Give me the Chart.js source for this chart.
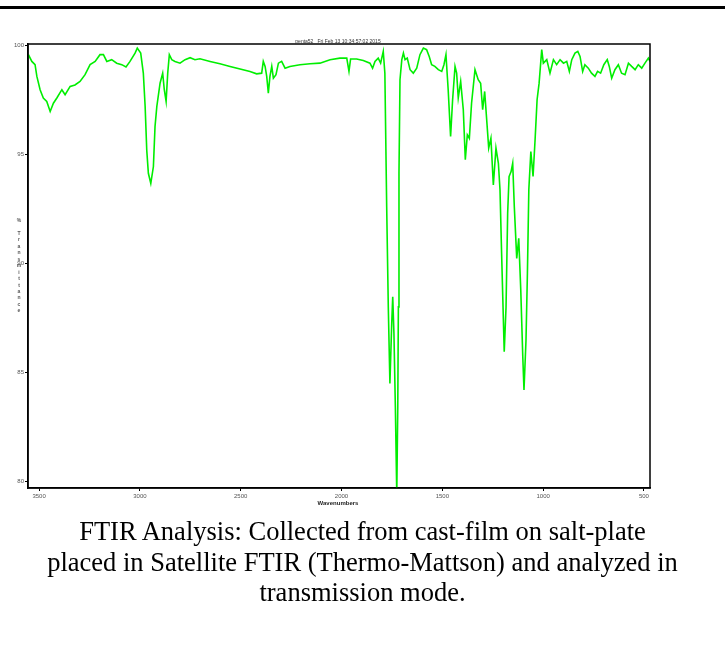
<!DOCTYPE html>
<html lang="en">
<head>
    <meta charset="UTF-8">
    <title>FTIR Spectrum</title>
    <script src="https://cdn.jsdelivr.net/npm/chart.js"></script>
    <style>
        body {
            margin: 0;
            background: #fff;
            width: 725px;
            height: 652px;
            position: relative;
            overflow: hidden;
        }
        .top-rule {
            position: absolute;
            left: 0;
            top: 6px;
            width: 725px;
            height: 3px;
            background: #000;
        }
        #chart {
            position: absolute;
            left: 0;
            top: 0;
        }
        .plot-title {
            position: absolute;
            left: 0;
            width: 676px;
            top: 38px;
            text-align: center;
            font-family: Arial, sans-serif;
            font-size: 5px;
            color: #333;
            white-space: pre;
        }
        .x-label {
            position: absolute;
            left: 0;
            width: 676px;
            top: 500px;
            text-align: center;
            font-family: Arial, sans-serif;
            font-size: 6px;
            font-weight: bold;
            color: #222;
        }
        .y-label {
            position: absolute;
            left: 15px;
            width: 8px;
            top: 217px;
            text-align: center;
            font-family: Arial, sans-serif;
            font-size: 5px;
            line-height: 6.45px;
            font-weight: bold;
            color: #555;
            white-space: pre;
        }
        .caption {
            position: absolute;
            left: 0;
            width: 725px;
            top: 516px;
            text-align: center;
            font-family: "Liberation Serif", "Times New Roman", serif;
            font-size: 26.5px;
            line-height: 30.5px;
            color: #000;
        }
    </style>
</head>
<body>
    <div class="top-rule"></div>
    <canvas id="chart" width="725" height="520"></canvas>
    <div class="plot-title">penta52   Fri Feb 13 10:34:57:02 2015</div>
    <div class="y-label" id="ylabel"></div>
    <div class="x-label">Wavenumbers</div>
    <div class="caption">FTIR Analysis: Collected from cast-film on salt-plate<br>placed in Satellite FTIR (Thermo-Mattson) and analyzed in<br>transmission mode.</div>

    <script>
        // spectrum (cm-1, %T)
        const wavenumbers = [
            3553, 3536, 3520, 3511, 3495, 3479, 3462, 3445, 3429, 3412, 3387, 3371, 3346, 3322, 3297, 3272,
            3247, 3222, 3198, 3181, 3164, 3140, 3115, 3090, 3069, 3049, 3024, 3013, 2996, 2983, 2974, 2966,
            2958, 2946, 2933, 2925, 2916, 2900, 2887, 2879, 2870, 2862, 2854, 2842, 2826, 2801, 2776, 2751,
            2727, 2702, 2652, 2603, 2553, 2503, 2454, 2421, 2396, 2388, 2379, 2371, 2363, 2355, 2346, 2338,
            2325, 2313, 2297, 2280, 2256, 2206, 2156, 2107, 2057, 2008, 1974, 1963, 1955, 1925, 1892, 1859,
            1846, 1834, 1818, 1806, 1793, 1785, 1776, 1768, 1760, 1751, 1746, 1740, 1733, 1726, 1721, 1718,
            1715, 1710, 1701, 1693, 1685, 1674, 1660, 1644, 1627, 1611, 1594, 1578, 1565, 1553, 1537, 1520,
            1503, 1492, 1482, 1471, 1459, 1449, 1437, 1429, 1421, 1409, 1396, 1386, 1376, 1366, 1355, 1338,
            1322, 1310, 1300, 1290, 1280, 1270, 1259, 1247, 1234, 1222, 1214, 1206, 1193, 1184, 1176, 1169,
            1159, 1151, 1143, 1131, 1121, 1111, 1101, 1095, 1085, 1078, 1071, 1061, 1050, 1040, 1030, 1020,
            1007, 999, 982, 966, 949, 933, 916, 899, 883, 870, 858, 842, 828, 817, 804, 793,
            776, 760, 743, 730, 715, 699, 682, 672, 660, 644, 627, 611, 594, 577, 561, 544,
            528, 511, 495, 478, 470
        ];
        const transmittance = [
            99.59, 99.28, 99.13, 98.59, 97.98, 97.60, 97.44, 96.98, 97.36, 97.60, 97.98, 97.75, 98.13, 98.20, 98.36, 98.67,
            99.13, 99.28, 99.59, 99.59, 99.28, 99.36, 99.20, 99.13, 99.02, 99.28, 99.66, 99.89, 99.66, 98.74, 97.21, 95.20,
            94.14, 93.68, 94.45, 96.29, 97.21, 98.28, 98.74, 97.98, 97.44, 98.74, 99.59, 99.36, 99.28, 99.20, 99.36, 99.45,
            99.36, 99.40, 99.28, 99.17, 99.05, 98.93, 98.82, 98.71, 98.74, 99.28, 99.05, 98.59, 97.82, 98.59, 99.05, 98.51,
            98.67, 99.20, 99.28, 98.97, 99.05, 99.13, 99.17, 99.20, 99.36, 99.43, 99.43, 98.82, 99.39, 99.39, 99.32, 99.20,
            98.97, 99.28, 99.43, 99.20, 99.74, 98.74, 92.60, 88.00, 84.48, 87.24, 88.47, 86.78, 83.41, 79.40, 83.41, 88.00,
            94.14, 98.44, 99.36, 99.66, 99.36, 99.43, 98.90, 98.74, 98.97, 99.59, 99.89, 99.82, 99.51, 99.13, 99.05, 98.90,
            98.82, 99.13, 99.59, 97.98, 95.83, 97.52, 99.05, 98.74, 97.60, 98.36, 97.06, 94.76, 95.91, 95.75, 97.36, 98.90,
            98.44, 98.28, 97.06, 97.90, 96.60, 95.30, 95.75, 93.60, 95.30, 94.60, 93.38, 90.46, 85.94, 88.00, 92.30, 93.99,
            94.22, 94.60, 92.60, 90.23, 91.15, 88.78, 85.71, 84.18, 86.48, 89.55, 93.38, 95.14, 93.99, 95.68, 97.52, 98.28,
            99.82, 99.20, 99.36, 98.74, 99.36, 99.13, 99.36, 99.20, 99.28, 98.82, 99.36, 99.66, 99.74, 99.51, 98.82, 99.13,
            98.97, 98.74, 98.59, 98.82, 98.74, 99.13, 99.36, 99.05, 98.51, 98.90, 99.13, 98.74, 98.67, 99.20, 99.05, 98.90,
            99.13, 98.97, 99.20, 99.43, 99.28
        ];
        const xTicks = [3500, 3000, 2500, 2000, 1500, 1000, 500];
        const yTicks = [80, 85, 90, 95, 100];
        const yAxisTitle = '%\n\nTransmittance';

        document.getElementById('ylabel').textContent =
            yAxisTitle.split('\n').map(part => part.split('').join('\n')).join('\n');

        const frameBox = {
            id: 'frameBox',
            afterDraw(chart) {
                const a = chart.chartArea;
                const ctx = chart.ctx;
                ctx.save();
                ctx.strokeStyle = '#000';
                ctx.lineWidth = 1.5;
                ctx.strokeRect(a.left, a.top, a.right - a.left, a.bottom - a.top);
                ctx.restore();
            }
        };

        const tickFont = { family: 'Arial', size: 6 };

        new Chart(document.getElementById('chart').getContext('2d'), {
            type: 'line',
            data: {
                datasets: [{
                    data: wavenumbers.map((w, i) => ({ x: w, y: transmittance[i] })),
                    borderColor: '#00ee00',
                    borderWidth: 1.6,
                    pointRadius: 0,
                    tension: 0,
                    fill: false
                }]
            },
            options: {
                responsive: false,
                animation: false,
                devicePixelRatio: 1,
                layout: { padding: { left: 0, top: 44, right: 75, bottom: 0 } },
                plugins: {
                    legend: { display: false },
                    tooltip: { enabled: false }
                },
                scales: {
                    x: {
                        type: 'linear',
                        reverse: true,
                        min: 470,
                        max: 3555,
                        afterBuildTicks: s => { s.ticks = xTicks.map(v => ({ value: v })); },
                        afterFit: s => { s.height = 32; },
                        grid: { drawOnChartArea: false, drawTicks: true, tickLength: 3, tickColor: '#000', tickWidth: 1 },
                        border: { color: '#000', width: 1.5 },
                        ticks: { font: tickFont, color: '#555', padding: 2, maxRotation: 0, autoSkip: false, callback: v => String(v) }
                    },
                    y: {
                        min: 79.68,
                        max: 100.08,
                        afterBuildTicks: s => { s.ticks = yTicks.map(v => ({ value: v })); },
                        afterFit: s => { s.width = 28; },
                        grid: { drawOnChartArea: false, drawTicks: true, tickLength: 3, tickColor: '#000', tickWidth: 1 },
                        border: { color: '#000', width: 1.5 },
                        ticks: { font: tickFont, color: '#555', padding: 1, callback: v => String(v) }
                    }
                }
            },
            plugins: [frameBox]
        });
    </script>
</body>
</html>
